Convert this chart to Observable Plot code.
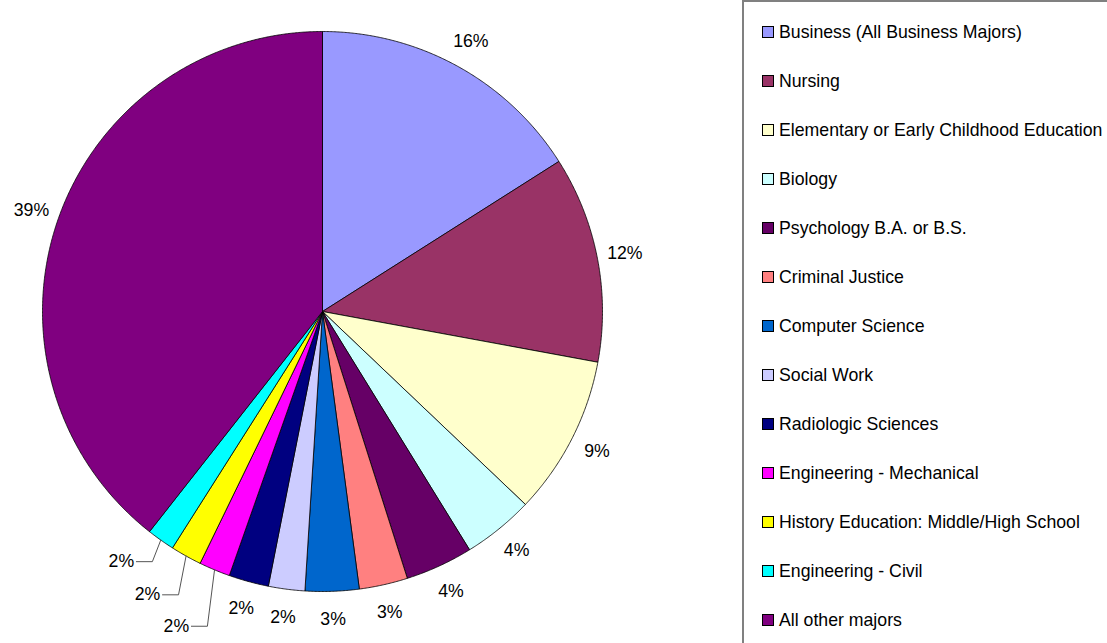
<!DOCTYPE html>
<html>
<head>
<meta charset="utf-8">
<script src="https://cdn.jsdelivr.net/npm/d3@7"></script>
<script src="https://cdn.jsdelivr.net/npm/@observablehq/plot@0.6"></script>
<style>
  html, body { margin: 0; padding: 0; background: #fff; overflow: hidden; }
  body { width: 1107px; height: 643px; position: relative; font-family: "Liberation Sans", Arial, sans-serif; }
  #chart { position: absolute; left: 0; top: 0; }
  #legend { position: absolute; left: 742px; top: 0; width: 380px; height: 660px; border: 2px solid #808080; box-sizing: border-box; padding-top: 5.5px; }
  .item { height: 49px; display: flex; align-items: center; font-size: 17.7px; color: #000; white-space: nowrap; }
  .sw { width: 10px; height: 10px; border: 1px solid #000; margin-left: 18px; margin-right: 5px; flex: none; }
</style>
</head>
<body>
<div id="chart"></div>
<div id="legend"></div>
<script>
// ---- data ----
const majors = [
  "Business (All Business Majors)",
  "Nursing",
  "Elementary or Early Childhood Education",
  "Biology",
  "Psychology B.A. or B.S.",
  "Criminal Justice",
  "Computer Science",
  "Social Work",
  "Radiologic Sciences",
  "Engineering - Mechanical",
  "History Education: Middle/High School",
  "Engineering - Civil",
  "All other majors"
];
const shares = [16.0, 11.9, 9.2, 4.1, 3.9, 2.8, 3.1, 2.1, 2.3, 1.8, 1.8, 1.6, 39.4];
const colors = ["#9999FF", "#993366", "#FFFFCC", "#CCFFFF", "#660066", "#FF8080", "#0066CC",
                "#CCCCFF", "#000080", "#FF00FF", "#FFFF00", "#00FFFF", "#800080"];

// ---- layout ----
const W = 742, H = 643, cx = 322, cy = 311, R = 280;
const total = d3.sum(shares);
let acc = 0;
const slices = majors.map((m, i) => {
  const a0 = acc / total * 2 * Math.PI;
  acc += shares[i];
  const a1 = acc / total * 2 * Math.PI;
  return {major: m, value: shares[i], a0, a1, mid: (a0 + a1) / 2, label: Math.round(shares[i] / total * 100) + "%"};
});
const pol = (a, r) => ({x: r * Math.sin(a), y: r * Math.cos(a)});

// polygon points for each slice
const piePts = [];
for (const s of slices) {
  piePts.push({major: s.major, ...pol(0, 0)});
  const n = Math.max(2, Math.ceil((s.a1 - s.a0) / 0.005));
  for (let k = 0; k <= n; k++) piePts.push({major: s.major, ...pol(s.a0 + (s.a1 - s.a0) * k / n, 1)});
  piePts.push({major: s.major, ...pol(0, 0)});
}

// labels: radial placement; the three thinnest ones moved out with leader lines
const leaderLabel = { // polar (angle deg, radius in pie units) of moved labels
  "Engineering - Mechanical": [204.9, 347 / R],
  "History Education: Middle/High School": [211.7, 333 / R],
  "Engineering - Civil": [218.8, 321 / R]
};
const labels = [], leaders = [];
for (const s of slices) {
  if (leaderLabel[s.major]) {
    const [deg, r] = leaderLabel[s.major];
    const p = pol(deg * Math.PI / 180, r);
    labels.push({...p, label: s.label});
    const start = pol(s.mid, 1);
    leaders.push({k: s.major, ...start});
    leaders.push({k: s.major, x: p.x + 31 / R, y: p.y});
    leaders.push({k: s.major, x: p.x + 15 / R, y: p.y});
  } else {
    labels.push({...pol(s.mid, 308 / R), label: s.label});
  }
}

const chart = Plot.plot({
  width: W, height: H,
  margin: 0,
  x: {domain: [-cx / R, (W - cx) / R], range: [0, W], axis: null},
  y: {domain: [(cy - H) / R, cy / R], range: [H, 0], axis: null},
  color: {domain: majors, range: colors},
  style: {fontFamily: "'Liberation Sans', Arial, sans-serif", background: "#fff"},
  marks: [
    Plot.line(piePts, {x: "x", y: "y", z: "major", fill: "major", stroke: "#000", strokeWidth: 0.8, curve: "linear"}),
    Plot.line(leaders, {x: "x", y: "y", z: "k", stroke: "#555", strokeWidth: 1}),
    Plot.text(labels, {x: "x", y: "y", text: "label", fontSize: 17.7, fill: "#000", textAnchor: "middle", lineAnchor: "middle"})
  ]
});
document.getElementById("chart").appendChild(chart);

// legend
const lg = document.getElementById("legend");
majors.forEach((m, i) => {
  const it = document.createElement("div");
  it.className = "item";
  const sw = document.createElement("span");
  sw.className = "sw";
  sw.style.background = colors[i];
  const t = document.createElement("span");
  t.textContent = m;
  it.appendChild(sw); it.appendChild(t);
  lg.appendChild(it);
});
</script>
</body>
</html>
